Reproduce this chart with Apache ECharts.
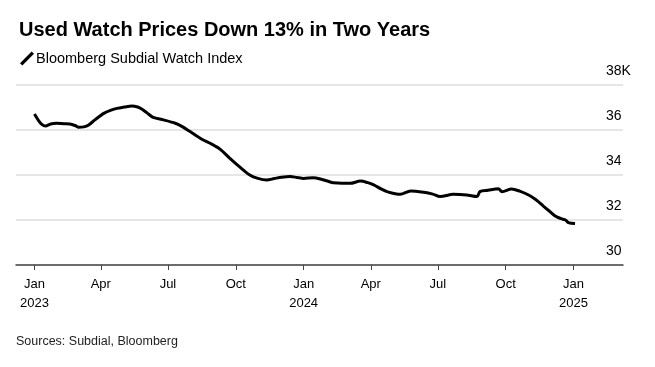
<!DOCTYPE html>
<html>
<head>
<meta charset="utf-8">
<script src="https://cdn.jsdelivr.net/npm/echarts@6/dist/echarts.min.js"></script>
<style>
html,body{margin:0;padding:0;background:#fff;}
#c{width:655px;height:367px;}
</style>
</head>
<body>
<div id="c"></div>
<script>
var dates = [
'2023-01-01','2023-01-06','2023-01-11','2023-01-16','2023-01-23','2023-01-31','2023-02-10','2023-02-18','2023-02-25','2023-03-02',
'2023-03-09','2023-03-15','2023-03-24','2023-04-05','2023-04-15','2023-04-23','2023-05-03','2023-05-13','2023-05-21','2023-05-27',
'2023-06-03','2023-06-11','2023-06-25','2023-07-11','2023-07-21','2023-07-31','2023-08-08','2023-08-16','2023-08-29','2023-09-10',
'2023-09-23','2023-10-07','2023-10-20','2023-10-31','2023-11-12','2023-11-22','2023-12-02','2023-12-14','2023-12-23','2024-01-01',
'2024-01-14','2024-01-26','2024-02-05','2024-02-10','2024-03-04','2024-03-18','2024-03-28','2024-04-05','2024-04-15','2024-04-23',
'2024-05-11','2024-05-25','2024-06-12','2024-06-24','2024-07-04','2024-07-22','2024-08-09','2024-08-23','2024-08-27','2024-09-07',
'2024-09-21','2024-09-26','2024-10-09','2024-10-20','2024-11-01','2024-11-11','2024-11-21','2024-11-29','2024-12-07','2024-12-15',
'2024-12-21','2024-12-25','2025-01-03'
];
var values = [
36.71,36.45,36.25,36.18,36.27,36.30,36.28,36.27,36.20,36.12,
36.14,36.21,36.45,36.74,36.88,36.96,37.02,37.07,37.02,36.92,
36.75,36.56,36.45,36.30,36.14,35.93,35.76,35.59,35.38,35.14,
34.74,34.34,34.00,33.85,33.78,33.84,33.90,33.93,33.89,33.85,
33.88,33.80,33.70,33.66,33.63,33.73,33.66,33.56,33.38,33.26,
33.14,33.29,33.23,33.15,33.04,33.14,33.11,33.04,33.26,33.32,
33.39,33.26,33.38,33.28,33.11,32.90,32.62,32.40,32.18,32.06,
32.00,31.88,31.84
];
var tickDates = ['2023-01-01','2023-04-01','2023-07-01','2023-10-01','2024-01-01','2024-04-01','2024-07-01','2024-10-01','2025-01-01'];
var monthNames = ['Jan','Feb','Mar','Apr','May','Jun','Jul','Aug','Sep','Oct','Nov','Dec'];
var yTicks = [30,32,34,36,38];
var seriesName = 'Bloomberg Subdial Watch Index';
var titleText = 'Used Watch Prices Down 13% in Two Years';
var sourceText = 'Sources: Subdial, Bloomberg';

function ts(s){ var p=s.split('-'); return Date.UTC(+p[0], +p[1]-1, +p[2]); }
var tickTs = tickDates.map(ts);
var data = dates.map(function(d,i){ return [ts(d), values[i]]; });

var chart = echarts.init(document.getElementById('c'), null, {renderer:'canvas'});
var FONT = '"Liberation Sans", Arial, Helvetica, sans-serif';
chart.setOption({
  animation:false,
  backgroundColor:'#fff',
  textStyle:{fontFamily:FONT},
  title:{
    text:titleText, left:14, top:15,
    textStyle:{fontFamily:FONT, fontSize:20, fontWeight:'bold', color:'#000'}
  },
  legend:{
    left:15, top:46, itemWidth:14, itemHeight:14, itemGap:5,
    icon:'path://M0,12 L10,2 L12,4 L2,14 Z',
    data:[seriesName],
    textStyle:{fontFamily:FONT, fontSize:14.5, color:'#000', padding:[0,0,0,-3]}
  },
  graphic:[{
    type:'text', left:16, top:335,
    style:{text:sourceText, font:'12.5px "Liberation Sans", Arial, sans-serif', fill:'#222'}
  }],
  grid:{left:16, right:32, top:85, bottom:102},
  xAxis:{
    type:'value',
    min:ts('2022-12-07'), max:ts('2025-03-09'),
    axisLine:{show:true, lineStyle:{color:'#444', width:1.5}},
    axisTick:{show:true, customValues:tickTs, length:5, lineStyle:{color:'#444', width:1}},
    splitLine:{show:false},
    axisLabel:{
      customValues:tickTs,
      margin:10,
      fontFamily:FONT, fontSize:13, color:'#000', lineHeight:19,
      formatter:function(v){
        var d=new Date(v); var m=d.getUTCMonth();
        return monthNames[m] + (m===0 ? '\n'+d.getUTCFullYear() : '');
      }
    }
  },
  yAxis:{
    type:'value', position:'right', min:30, max:38, interval:2,
    axisLine:{show:false}, axisTick:{show:false},
    splitLine:{show:true, lineStyle:{color:'#dedede', width:1.5}},
    axisLabel:{
      inside:true, align:'left', margin:17, verticalAlign:'bottom',
      padding:[0,0,7,0],
      fontFamily:FONT, fontSize:14, color:'#000',
      formatter:function(v){ return v===38 ? '38K' : String(v); }
    }
  },
  series:[{
    name:seriesName, type:'line', data:data, showSymbol:false, symbol:'none',
    lineStyle:{color:'#000', width:3}, itemStyle:{color:'#000'},
    smooth:0.3
  }]
});
</script>
</body>
</html>
